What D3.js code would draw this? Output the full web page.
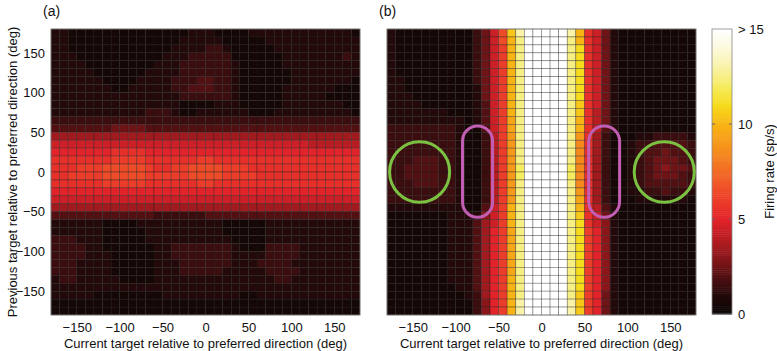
<!DOCTYPE html>
<html>
<head>
<meta charset="utf-8">
<script src="https://cdn.jsdelivr.net/npm/d3@7"></script>
<style>
  body { margin: 0; background: #fff; }
  text { font-family: "Liberation Sans", Arial, Helvetica, sans-serif; fill: #111; }
</style>
</head>
<body>
<div id="chart"></div>
<script>
// bin centres (deg), 10 deg bins
const currBins = [-175,-165,-155,-145,-135,-125,-115,-105,-95,-85,-75,-65,-55,-45,-35,-25,-15,-5,
                  5,15,25,35,45,55,65,75,85,95,105,115,125,135,145,155,165,175];
// rows go top -> bottom
const prevBins = [175,165,155,145,135,125,115,105,95,85,75,65,55,45,35,25,15,5,
                  -5,-15,-25,-35,-45,-55,-65,-75,-85,-95,-105,-115,-125,-135,-145,-155,-165,-175];

const xTicks = [-150,-100,-50,0,50,100,150];
const yTicks = [-150,-100,-50,0,50,100,150];
const cbarTicks = [0,5,10,15];
const cbarLabels = ["0","5","10","> 15"];

// firing rate per cell, one char per cell, base-36 digit in units of 0.5 sp/s
// panel (a)
const rateA = [
  "221111111111111122211112222222222221",
  "221111111111111222221111122222222222",
  "221111111111112222332111112222222222",
  "222111111111122233333111111222222232",
  "222211111111222333333211111222222222",
  "222221111112222333333211111122222222",
  "222222111122223334433211111122222221",
  "222222211222223344433211111222222111",
  "222222222222222333333211111222221111",
  "222222222222222111122211111222222211",
  "222222222223332112222221112222222221",
  "333333333333333333333333333333333333",
  "444444455554444444444444444444444444",
  "777777777777777777777777777777777777",
  "999999999999999999999999999999888888",
  "aaaaaaabbbbaaaaaaaaaaaaaaaaaaaaaaaaa",
  "bbbbbbbccccbbbbbbccbbbbbbbbbbbbbbbbb",
  "bbbcccdddddcbbccddddcccbbbbbbbbbbbbb",
  "bbccccdddddcccccddddccccbbbbbbbbbbbb",
  "bbbbbbcccccbbbbbbccbbbbbbbbbbbbbbbbb",
  "aaaaaaaaaaaaaaaaaaaaaaaaaaaaaaaaaaaa",
  "999999999999999999999999999999999999",
  "777777777777777777777777777777777777",
  "444444444444333333444444444444444444",
  "222222111122222222221111122222222222",
  "222222111112222222221111122222222222",
  "333222111112222222222111122222222222",
  "333322111111223333333211133332222222",
  "333322211111223333333222233332222222",
  "333222211111222333333222333322222222",
  "333222211111222333332222233332222222",
  "233222221111222222222222223322222222",
  "222222222222222222222222222222222222",
  "222221111111122222222211222222222222",
  "111111111111111111111111111111111111",
  "111111111111111111111111111111111111"
];

// panel (b)
const rateB = [
  "2111111111359dlqwwwwwqkb952111111111",
  "2111111111359dkpwwwwwpkb952111111111",
  "2111111111359ckpwwwwwpmb952111111111",
  "2111111111359ckpwwwwwpmb952111111111",
  "2111111111359ckpwwwwwpmb952111111111",
  "2111111111359ckpwwwwwpmb952111111111",
  "2211111111359ckpwwwwwpmb952111111111",
  "2211111111259ckpwwwwwpmb952111111111",
  "2221111111259ckpwwwwwpmb952111111111",
  "2222111111249ckpwwwwwplb952111111111",
  "2222222111249ckpwwwwwplb852111111111",
  "2222222221249cjpwwwwwpkb852111111111",
  "3333333321149cjpwwwwwpkb842111111111",
  "3333333321138cipwwwwwpib731112233332",
  "3333333321138cipwwwwwphb731123344443",
  "3333333321138cipwwwwwphb731123445443",
  "3334443321138cipwwwwwphb731123455543",
  "3344443321138ciowwwwwohb731123456554",
  "3344443321138ciowwwwwohb731123455543",
  "3334443321138cipwwwwwphb731123444443",
  "3333333321138cipwwwwwpib731122334332",
  "3333333321138cipwwwwwpjb731112222221",
  "2222222221149ckpwwwwwpkb842111111111",
  "1111111222269ckpwwwwwplb952111111111",
  "1111111222479ckpwwwwwpmb962111111111",
  "111111122247acjpwwwwwpmca62111111111",
  "111111122247acjpwwwwwpmca62111111111",
  "111111122247acjpwwwwwpmca62111111111",
  "111111122247acjpwwwwwpmca62111111111",
  "111111122247acjpwwwwwpmca62111111111",
  "111111122247acjpwwwwwpmca62111111111",
  "111111122247ackpwwwwwpmca62111111111",
  "111111112247ackpwwwwwpmca62111111111",
  "111111111237ackpwwwwwplca52111111111",
  "111111111136ackqwwwwwqlca52111111111",
  "111111111136ackqwwwwwqlca52111111111"
];

// annotations on panel (b), data coords (deg)
const greenCircles = [{cx: -142, cy: 0, rx: 35, ry: 38}, {cx: 143, cy: 0, rx: 35, ry: 38}];
const magentaOvals = [{x0: -92, x1: -57, y0: -57, y1: 58}, {x0: 55, x1: 91, y0: -57, y1: 58}];

// colour map stops (sp/s)
const cmapValues = [0,1,2,3,4,5,6,7,8,9,10,11,12,13,14,15];
const cmapColors = ["#080404","#230909","#521012","#8a161a","#b81d22","#e2232a","#ec3d2a","#f05a28",
                    "#f37a22","#f6981a","#f8b414","#f6dc1c","#f6ec60","#f9f2a8","#fcf9dc","#ffffff"];

var W = 777, H = 351;
var panelA = {x: 51, y: 29, w: 309, h: 286};
var panelB = {x: 387, y: 29, w: 309, h: 286};
var cbar = {x: 712, y: 29, w: 20, h: 285};

var color = d3.scaleLinear().domain(cmapValues).range(cmapColors).clamp(true);
var fmt = d3.format("");

var svg = d3.select("#chart")
    .append("svg")
    .attr("width", W)
    .attr("height", H);

function parseRows(rows) {
    return rows.map(function(r) {
        return r.split("").map(function(ch) { return parseInt(ch, 36) * 0.5; });
    });
}

function drawPanel(p, rows, tag) {
    var g = svg.append("g").attr("transform", "translate(" + p.x + "," + p.y + ")");

    var x = d3.scaleBand().domain(currBins).range([0, p.w]);
    var y = d3.scaleBand().domain(prevBins).range([0, p.h]);
    var xl = d3.scaleLinear().domain([-180, 180]).range([0, p.w]);
    var yl = d3.scaleLinear().domain([-180, 180]).range([p.h, 0]);

    var cells = [];
    parseRows(rows).forEach(function(r, i) {
        r.forEach(function(v, j) {
            cells.push({c: currBins[j], p: prevBins[i], v: v});
        });
    });

    g.selectAll("rect.cell")
        .data(cells)
        .enter()
        .append("rect")
            .attr("class", "cell")
            .attr("x", function(d) { return x(d.c); })
            .attr("y", function(d) { return y(d.p); })
            .attr("width", x.bandwidth())
            .attr("height", y.bandwidth())
            .style("fill", function(d) { return color(d.v); })
            .style("stroke", "#1e1e1e")
            .style("stroke-opacity", 0.55)
            .style("stroke-width", 0.6);

    g.append("rect")
        .attr("width", p.w).attr("height", p.h)
        .style("fill", "none").style("stroke", "#888").style("stroke-width", 0.8);

    // x axis
    var ax = g.append("g")
        .attr("transform", "translate(0," + p.h + ")")
        .call(d3.axisBottom(xl).tickValues(xTicks).tickSize(0).tickPadding(8).tickFormat(fmt));
    ax.select(".domain").remove();
    ax.selectAll("text").style("font-size", "13px").attr("fill", "#111");

    svg.append("text")
        .attr("x", p.x + p.w / 2)
        .attr("y", 348)
        .attr("text-anchor", "middle")
        .style("font-size", "13px")
        .text("Current target relative to preferred direction (deg)");

    if (tag === "(a)") {
        var ay = g.append("g")
            .call(d3.axisLeft(yl).tickValues(yTicks).tickSize(0).tickPadding(6).tickFormat(fmt));
        ay.select(".domain").remove();
        ay.selectAll("text").style("font-size", "13px").attr("fill", "#111");

        svg.append("text")
            .attr("transform", "translate(12," + (p.y + p.h / 2) + ") rotate(-90)")
            .attr("text-anchor", "middle")
            .attr("dy", "0.35em")
            .style("font-size", "13px")
            .text("Previous target relative to preferred direction (deg)");
    }

    svg.append("text")
        .attr("x", p.x - 8)
        .attr("y", 16)
        .style("font-size", "14px")
        .text(tag);

    return {g: g, xl: xl, yl: yl};
}

drawPanel(panelA, rateA, "(a)");
var pb = drawPanel(panelB, rateB, "(b)");

// annotations
pb.g.selectAll("ellipse.green")
    .data(greenCircles)
    .enter()
    .append("ellipse")
        .attr("cx", function(d) { return pb.xl(d.cx); })
        .attr("cy", function(d) { return pb.yl(d.cy); })
        .attr("rx", function(d) { return pb.xl(d.cx + d.rx) - pb.xl(d.cx); })
        .attr("ry", function(d) { return pb.yl(d.cy - d.ry) - pb.yl(d.cy); })
        .style("fill", "none")
        .style("stroke", "#7cc242")
        .style("stroke-width", 3);

pb.g.selectAll("rect.oval")
    .data(magentaOvals)
    .enter()
    .append("rect")
        .attr("class", "oval")
        .attr("x", function(d) { return pb.xl(d.x0); })
        .attr("y", function(d) { return pb.yl(d.y1); })
        .attr("width", function(d) { return pb.xl(d.x1) - pb.xl(d.x0); })
        .attr("height", function(d) { return pb.yl(d.y0) - pb.yl(d.y1); })
        .attr("rx", function(d) { return (pb.xl(d.x1) - pb.xl(d.x0)) / 2; })
        .style("fill", "none")
        .style("stroke", "#c25fb5")
        .style("stroke-width", 3);

// colour bar
var cy = d3.scaleLinear().domain([0, 15]).range([cbar.y + cbar.h, cbar.y]);
var steps = d3.range(0, 15, 0.1);
var cb = svg.append("g");
cb.selectAll("rect")
    .data(steps)
    .enter()
    .append("rect")
        .attr("x", cbar.x)
        .attr("y", function(d) { return cy(d + 0.1); })
        .attr("width", cbar.w)
        .attr("height", function(d) { return cy(d) - cy(d + 0.1) + 0.5; })
        .style("fill", function(d) { return color(d + 0.05); });

cb.append("rect")
    .attr("x", cbar.x).attr("y", cbar.y).attr("width", cbar.w).attr("height", cbar.h)
    .style("fill", "none").style("stroke", "#888").style("stroke-width", 0.8);

cb.selectAll("line.tl")
    .data(cbarTicks.slice(1, 3))
    .enter()
    .append("line")
        .attr("x1", cbar.x).attr("x2", cbar.x + 3)
        .attr("y1", function(d) { return cy(d); }).attr("y2", function(d) { return cy(d); })
        .style("stroke", "#666");
cb.selectAll("line.tr")
    .data(cbarTicks.slice(1, 3))
    .enter()
    .append("line")
        .attr("x1", cbar.x + cbar.w - 3).attr("x2", cbar.x + cbar.w)
        .attr("y1", function(d) { return cy(d); }).attr("y2", function(d) { return cy(d); })
        .style("stroke", "#666");

cb.selectAll("text.tk")
    .data(cbarTicks)
    .enter()
    .append("text")
        .attr("x", cbar.x + cbar.w + 6)
        .attr("y", function(d) { return cy(d); })
        .attr("dy", "0.35em")
        .style("font-size", "13px")
        .text(function(d, i) { return cbarLabels[i]; });

svg.append("text")
    .attr("transform", "translate(769," + (cbar.y + cbar.h / 2) + ") rotate(-90)")
    .attr("text-anchor", "middle")
    .attr("dy", "0.35em")
    .style("font-size", "13px")
    .text("Firing rate (sp/s)");
</script>
</body>
</html>
